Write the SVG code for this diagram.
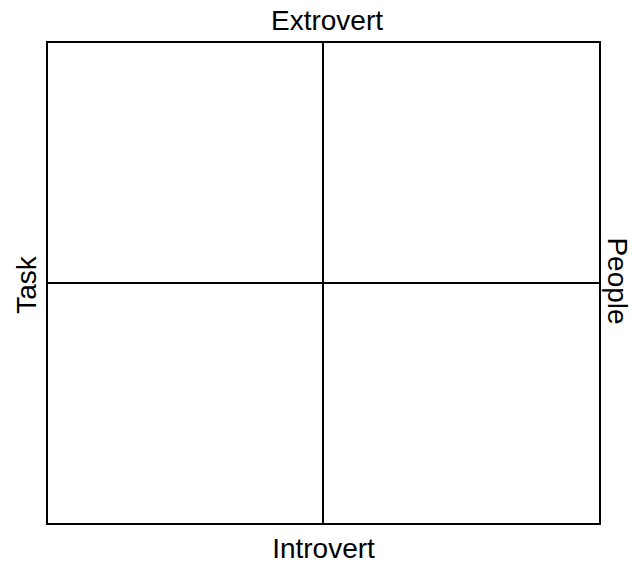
<svg xmlns="http://www.w3.org/2000/svg" width="632" height="565" viewBox="0 0 632 565">
<style>
.ln{stroke:#000;stroke-width:2;fill:none}
.lb{font-family:"Liberation Sans",Arial,sans-serif;font-size:28px;fill:#000;text-anchor:middle}
</style>
<rect width="632" height="565" fill="#fff"/>
<g id="grid">
<rect class="ln" x="47" y="42" width="553" height="482"/>
</g>
<g id="connectors">
<line class="ln" x1="323" y1="42" x2="323" y2="524"/>
<line class="ln" x1="47" y1="283" x2="600" y2="283"/>
</g>
<g id="extrovert"><text class="lb" x="327" y="30">Extrovert</text></g>
<g id="introvert"><text class="lb" x="323.5" y="558">Introvert</text></g>
<g id="task"><text class="lb" transform="translate(36,285) rotate(-90)">Task</text></g>
<g id="people"><text class="lb" transform="translate(608,281) rotate(90)">People</text></g>
</svg>
